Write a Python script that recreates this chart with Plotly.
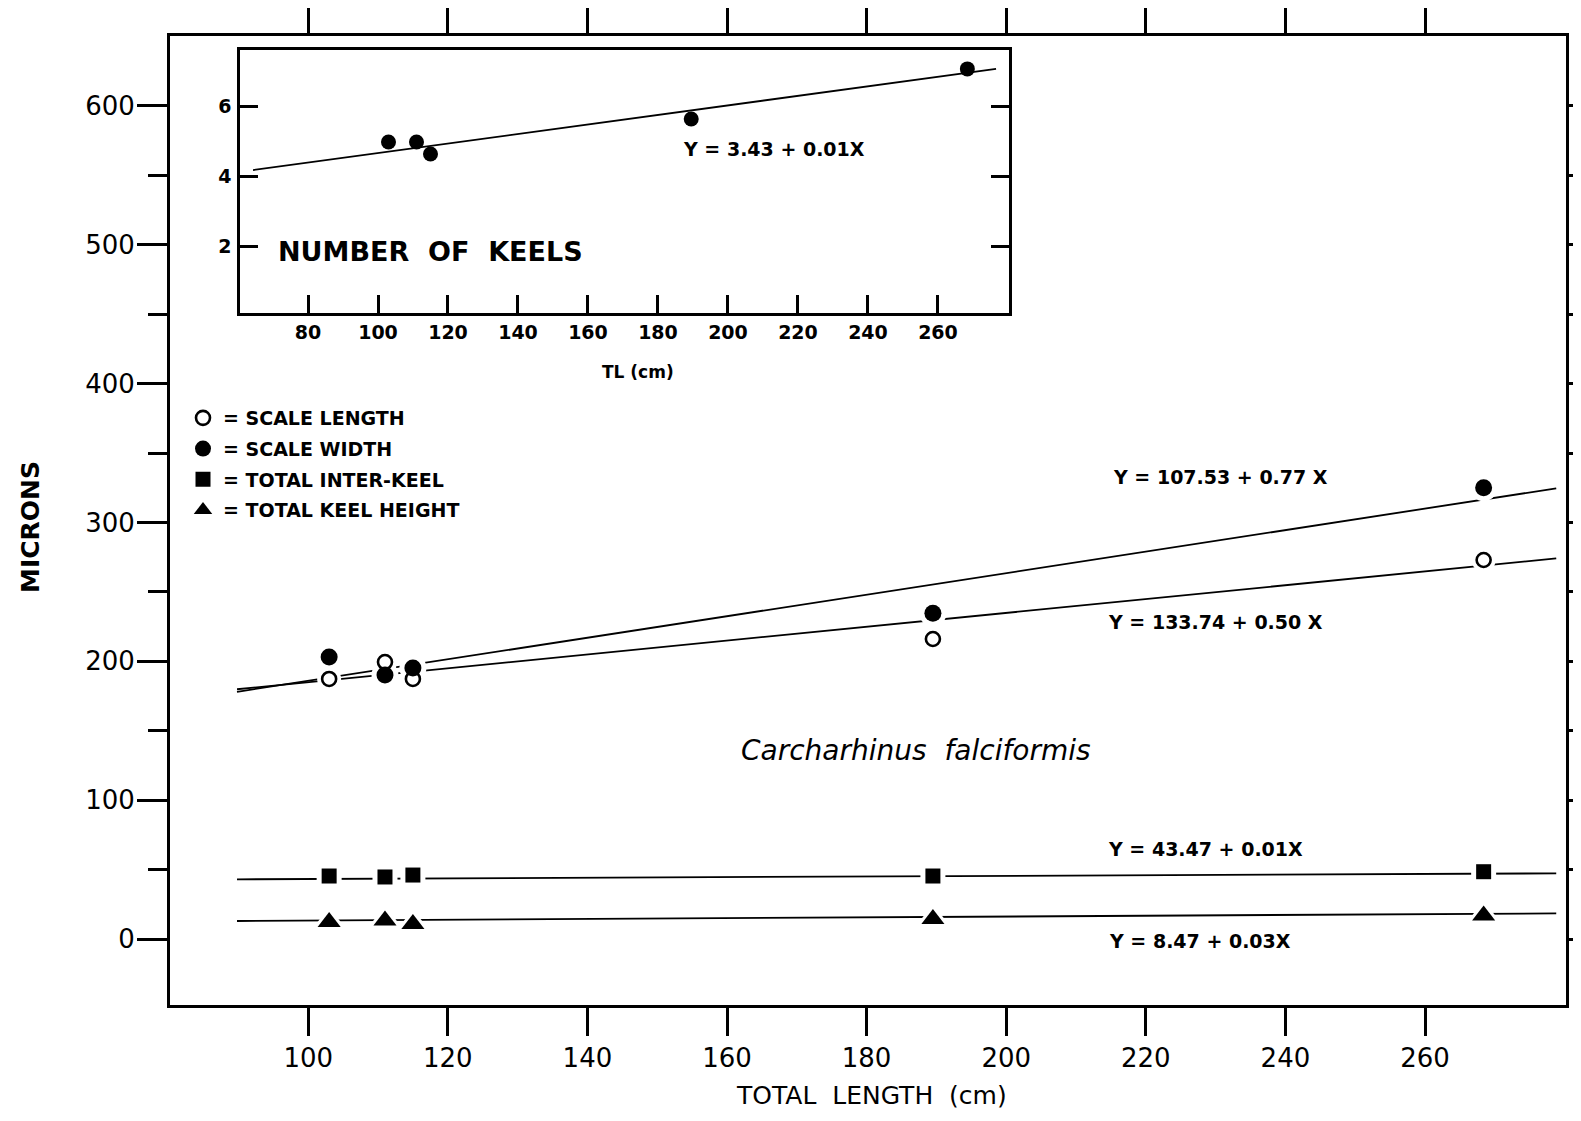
import plotly.graph_objects as go

# ---------------- data ----------------
# total length of the specimens (cm)
total_length = [103, 111, 115, 189.5, 268.4]

# main panel values (microns)
scale_length = [187.3, 199.5, 187.3, 216.1, 273.0]
scale_width = [203.1, 190.2, 195.2, 234.6, 325.1]
total_inter_keel = [45.4, 44.7, 46.1, 45.4, 48.5]
total_keel_height = [12.2, 13.3, 10.8, 14.5, 16.9]

# drawn regression lines (end points)
fit_x = [89.8, 278.8]
fit_scale_width = [178.1, 324.6]
fit_scale_length = [179.9, 274.2]
fit_inter_keel = [43.0, 47.3]
fit_keel_height = [13.0, 18.5]

# inset: number of keels
keel_count = [4.97, 4.97, 4.63, 5.63, 7.06]
keel_fit_x = [64.3, 276.6]
keel_fit_y = [4.17, 7.06]

# tick values
x_ticks = [100, 120, 140, 160, 180, 200, 220, 240, 260]
y_ticks = [0, 100, 200, 300, 400, 500, 600]
y_minor_ticks = [50, 150, 250, 350, 450, 550]
inset_x_ticks = [80, 100, 120, 140, 160, 180, 200, 220, 240, 260]
inset_y_ticks = [2, 4, 6]

# series labels
series_names = ["= SCALE LENGTH", "= SCALE WIDTH", "= TOTAL INTER-KEEL", "= TOTAL KEEL HEIGHT"]
equations = ["Y = 107.53 + 0.77 X", "Y = 133.74 + 0.50 X", "Y = 43.47 + 0.01X", "Y = 8.47 + 0.03X"]
inset_equation = "Y = 3.43 + 0.01X"

# ---------------- figure ----------------
# the page adds an 8px body margin, so the figure is made 16px smaller
OFF = 8
W, H = 1581 - 2 * OFF, 1121 - 2 * OFF
BLACK = "black"
FONT = "DejaVu Sans"


def px_x(p):
    return (p - OFF) / W


def px_y(p):
    return 1 - (p - OFF) / H


fig = go.Figure()

line_style = dict(color=BLACK, width=1.8)
for fy in [fit_scale_width, fit_scale_length, fit_inter_keel, fit_keel_height]:
    fig.add_trace(go.Scatter(x=fit_x, y=fy, mode="lines", line=line_style,
                             showlegend=False, hoverinfo="skip", xaxis="x", yaxis="y"))

series = [
    (scale_length, "circle-open", 14, dict(color=BLACK, width=2.6)),
    (scale_width, "circle", 17, dict(color=BLACK, width=0)),
    (total_inter_keel, "square", 15, dict(color=BLACK, width=0)),
    (total_keel_height, "triangle-up", 20, dict(color=BLACK, width=0)),
]

# white halos so that the lines break around the symbols
for vals, sym, size, ln in series:
    halo_sym = sym.replace("-open", "")
    fig.add_trace(go.Scatter(x=total_length, y=vals, mode="markers",
                             marker=dict(symbol=halo_sym, size=size + 10, color="white",
                                         line=dict(width=0)),
                             showlegend=False, hoverinfo="skip", xaxis="x", yaxis="y"))

for i, (vals, sym, size, ln) in enumerate(series):
    fig.add_trace(go.Scatter(x=total_length, y=vals, mode="markers", name=series_names[i],
                             legendgroup=f"g{i}",
                             marker=dict(symbol=sym, size=size, color=BLACK, line=ln),
                             xaxis="x", yaxis="y"))

# inset
fig.add_trace(go.Scatter(x=keel_fit_x, y=keel_fit_y, mode="lines", line=line_style,
                         showlegend=False, hoverinfo="skip", xaxis="x2", yaxis="y2"))
fig.add_trace(go.Scatter(x=total_length, y=keel_count, mode="markers",
                         marker=dict(symbol="circle", size=15, color=BLACK),
                         showlegend=False, xaxis="x2", yaxis="y2"))

axis_common = dict(showgrid=False, zeroline=False, showline=True, linecolor=BLACK,
                   tickcolor=BLACK, automargin=False)

fig.update_layout(
    width=W, height=H,
    margin=dict(l=0, r=0, t=0, b=0),
    paper_bgcolor="white", plot_bgcolor="white",
    font=dict(family=FONT, color=BLACK),
    showlegend=True,
    legend=dict(x=px_x(183), y=px_y(399), xanchor="left", yanchor="top",
                bgcolor="rgba(0,0,0,0)", borderwidth=0,
                font=dict(family=FONT, size=19, color=BLACK, weight="bold"),
                tracegroupgap=3, itemsizing="trace"),
    xaxis=dict(domain=[px_x(170), px_x(1566)], range=[80.2, 280.2], anchor="y",
               tickmode="array", tickvals=x_ticks, ticks="outside", ticklen=28, tickwidth=2.5,
               linewidth=3, mirror="ticks",
               tickfont=dict(family=FONT, size=26, color=BLACK), **axis_common),
    yaxis=dict(domain=[px_y(1005), px_y(36)], range=[-47.5, 650.4], anchor="x",
               tickmode="array", tickvals=y_ticks, ticks="outside", ticklen=30, tickwidth=2.5,
               linewidth=3, mirror="ticks", ticklabelstandoff=-3,
               minor=dict(tickmode="array", tickvals=y_minor_ticks, ticks="outside",
                          ticklen=19, tickwidth=2.5, tickcolor=BLACK, showgrid=False),
               tickfont=dict(family=FONT, size=26, color=BLACK), **axis_common),
    xaxis2=dict(domain=[px_x(240), px_x(1009)], range=[60.57, 280.3], anchor="y2",
                tickmode="array", tickvals=inset_x_ticks, ticks="inside", ticklen=18, tickwidth=2.5,
                linewidth=2.5, mirror=True,
                tickfont=dict(family=FONT, size=19, color=BLACK, weight="bold"), **axis_common),
    yaxis2=dict(domain=[px_y(313), px_y(50)], range=[0.086, 7.6], anchor="x2",
                tickmode="array", tickvals=inset_y_ticks, ticks="inside", ticklen=18, tickwidth=2.5,
                linewidth=2.5, mirror="ticks", ticklabelstandoff=2,
                tickfont=dict(family=FONT, size=19, color=BLACK, weight="bold"), **axis_common),
)

ann_font = dict(family=FONT, size=19, color=BLACK, weight="bold")
eq_pos = [(230.7, 333.0), (230.0, 228.6), (228.6, 64.6), (227.7, -1.4)]
annotations = []
for txt, (ax, ay) in zip(equations, eq_pos):
    annotations.append(dict(x=ax, y=ay, xref="x", yref="y", text=txt, showarrow=False,
                            xanchor="center", yanchor="middle", font=ann_font))
annotations += [
    dict(x=187.1, y=135.6, xref="x", yref="y", text="<i>Carcharhinus  falciformis</i>",
         showarrow=False, xanchor="center", yanchor="middle",
         font=dict(family=FONT, size=28, color=BLACK)),
    dict(x=213.1, y=4.77, xref="x2", yref="y2", text=inset_equation, showarrow=False,
         xanchor="center", yanchor="middle", font=ann_font),
    dict(x=115, y=1.83, xref="x2", yref="y2", text="NUMBER  OF  KEELS", showarrow=False,
         xanchor="center", yanchor="middle",
         font=dict(family=FONT, size=27, color=BLACK, weight="bold")),
    dict(x=px_x(638), y=px_y(372), xref="paper", yref="paper", text="TL (cm)", showarrow=False,
         xanchor="center", yanchor="middle",
         font=dict(family=FONT, size=17, color=BLACK, weight="bold")),
    dict(x=px_x(871), y=px_y(1112), xref="paper", yref="paper", text="TOTAL  LENGTH  (cm)",
         showarrow=False, xanchor="center", yanchor="bottom",
         font=dict(family=FONT, size=25, color=BLACK)),
    dict(x=px_x(30), y=px_y(527), xref="paper", yref="paper", text="MICRONS", textangle=-90,
         showarrow=False, xanchor="center", yanchor="middle",
         font=dict(family=FONT, size=25, color=BLACK, weight="bold")),
]
fig.update_layout(annotations=annotations)

fig.write_html("out.html")
